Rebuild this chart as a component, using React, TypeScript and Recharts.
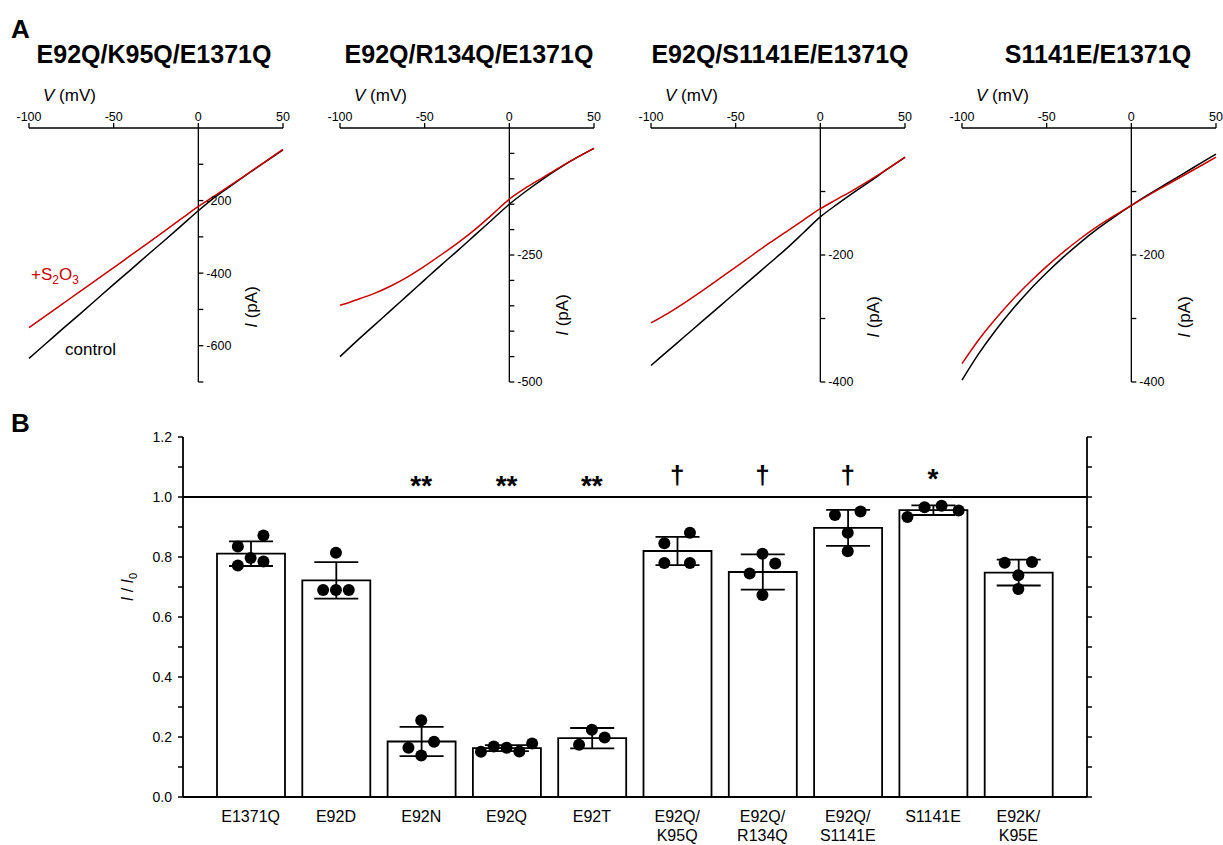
import React from 'react'
import {
  ComposedChart, Line, Bar, Scatter, XAxis, YAxis, ReferenceLine, ErrorBar
} from 'recharts'

const FONT = '"Liberation Sans", Arial, sans-serif'
const RED = '#c80000'

const voltages = [-100, -90, -80, -70, -60, -50, -40, -30, -20, -10, 0, 10, 20, 30, 40, 50]

const ivTitles = ['E92Q/K95Q/E1371Q', 'E92Q/R134Q/E1371Q', 'E92Q/S1141E/E1371Q', 'S1141E/E1371Q']

const controlK95Q = [-635, -594, -553, -513, -472, -431, -391, -350, -310, -269, -228, -190, -157, -124, -92, -60]
const thioK95Q = [-550, -517, -484, -451, -418, -385, -351, -318, -284, -250, -216, -186, -155, -123, -91, -59]

const controlR134Q = [-450, -419, -389, -359, -329, -299, -269, -240, -210, -180, -150, -124, -100, -78, -58, -40]
const thioR134Q = [-349, -338, -326, -311, -293, -272, -249, -225, -199, -170, -140, -117, -97, -77, -58, -40]

const controlS1141E3 = [-374, -351, -328, -305, -282, -259, -236, -213, -190, -165, -140, -120, -101, -83, -64, -46]
const thioS1141E3 = [-307, -292, -275, -257, -238, -219, -200, -181, -163, -145, -127, -112, -97, -81, -64, -46]

const controlS1141E2 = [-397, -355, -318, -285, -255, -228, -203, -180, -159, -140, -122, -105, -89, -73, -57, -41]
const thioS1141E2 = [-371, -333, -300, -270, -243, -218, -195, -174, -155, -138, -122, -106, -91, -76, -61, -46]

const ivControl = [controlK95Q, controlR134Q, controlS1141E3, controlS1141E2]
const ivThio = [thioK95Q, thioR134Q, thioS1141E3, thioS1141E2]

const ivYMin = [-700, -500, -400, -400]
const ivYTicks = [
  [-100, -200, -300, -400, -500, -600, -700],
  [-50, -100, -150, -200, -250, -300, -350, -400, -450, -500],
  [-100, -200, -300, -400],
  [-100, -200, -300, -400],
]
const ivYLabels = [[-200, -400, -600], [-250, -500], [-200, -400], [-200, -400]]
const vTicks = [-100, -50, 0, 50]

// ---- panel B: I / I0 ----
const mutants = ['E1371Q', 'E92D', 'E92N', 'E92Q', 'E92T', 'E92Q/\nK95Q', 'E92Q/\nR134Q', 'E92Q/\nS1141E', 'S1141E', 'E92K/\nK95E']
const meanRatio = [0.811, 0.722, 0.185, 0.163, 0.196, 0.820, 0.750, 0.897, 0.956, 0.748]
const sdRatio = [0.041, 0.061, 0.049, 0.010, 0.034, 0.047, 0.059, 0.060, 0.016, 0.043]
const cellRatios = [
  [0.835, 0.872, 0.797, 0.772, 0.785],
  [0.814, 0.690, 0.690, 0.690],
  [0.256, 0.184, 0.164, 0.138],
  [0.151, 0.168, 0.164, 0.152, 0.178],
  [0.174, 0.224, 0.198],
  [0.846, 0.881, 0.780, 0.780],
  [0.811, 0.778, 0.745, 0.673],
  [0.940, 0.952, 0.881, 0.819],
  [0.933, 0.966, 0.971, 0.955],
  [0.781, 0.783, 0.739, 0.693],
]
// horizontal spread of the dots, in bar slots
const cellJitter = [
  [-0.15, 0.15, 0, -0.15, 0.15],
  [0, -0.15, 0, 0.15],
  [0, 0.15, -0.15, 0],
  [-0.3, -0.15, 0, 0.15, 0.3],
  [-0.15, 0, 0.15],
  [-0.15, 0.15, -0.15, 0.15],
  [0, 0.15, -0.15, 0],
  [-0.15, 0.15, 0, 0],
  [-0.3, -0.1, 0.1, 0.3],
  [-0.16, 0.16, 0, 0],
]
const marks = ['', '', '**', '**', '**', '†', '†', '†', '*', '']
const ratioTicks = [0, 0.1, 0.2, 0.3, 0.4, 0.5, 0.6, 0.7, 0.8, 0.9, 1.0, 1.1, 1.2]

// ---- layout ----
const ivPlotLeft = [29, 340, 651, 962]
const ivPlotW = 254
const ivTitleX = [154, 469, 780, 1098]
const ivLabelY = [307, 315, 317, 317]

const yTickShape = (p: any) => {
  const lab = p.payload.label
  return (
    <g>
      <line x1={p.cx} x2={p.cx + 5} y1={p.cy} y2={p.cy} stroke="#000" strokeWidth={1.3} />
      {lab ? (
        <text x={p.cx + 8} y={p.cy} dy="0.35em" fontSize={12.5} fontFamily={FONT} fill="#000">{lab}</text>
      ) : null}
    </g>
  )
}

function IVPanel({ idx }: { idx: number }) {
  const rows = voltages.map((v, k) => ({ v, control: ivControl[idx][k], thio: ivThio[idx][k] }))
  const tickRows = ivYTicks[idx].map(t => ({
    v: 0, i: t, label: ivYLabels[idx].includes(t) ? String(t) : ''
  }))
  return (
    <div style={{ position: 'absolute', left: ivPlotLeft[idx] - 20, top: 0 }}>
      <ComposedChart width={ivPlotW + 40} height={392} data={rows}
        margin={{ top: 100, right: 20, bottom: 10, left: 20 }}>
        <XAxis type="number" dataKey="v" orientation="top" domain={[-100, 50]} ticks={vTicks}
          height={28} tickSize={5} tickMargin={2} interval={0}
          axisLine={{ stroke: '#000', strokeWidth: 1.3 }} tickLine={{ stroke: '#000', strokeWidth: 1.3 }}
          tick={{ fontSize: 12.5, fill: '#000', fontFamily: FONT }} />
        <YAxis type="number" domain={[ivYMin[idx], 0]} hide />
        <ReferenceLine x={0} stroke="#000" strokeWidth={1.3} />
        <Line type="monotone" dataKey="control" stroke="#000" strokeWidth={1.5} dot={false} isAnimationActive={false} />
        <Line type="monotone" dataKey="thio" stroke={RED} strokeWidth={1.5} dot={false} isAnimationActive={false} />
        <Scatter data={tickRows} dataKey="i" shape={yTickShape} isAnimationActive={false} />
      </ComposedChart>
    </div>
  )
}

const leftTick = (p: any) => {
  const v = p.payload.value
  const major = Math.round(v * 10) % 2 === 0
  return (
    <g>
      <line x1={p.x - 5} x2={p.x} y1={p.y} y2={p.y} stroke="#000" strokeWidth={1.5} />
      {major ? (
        <text x={p.x - 11} y={p.y} dy="0.35em" textAnchor="end" fontSize={14} fontFamily={FONT} fill="#000">
          {v.toFixed(1)}
        </text>
      ) : null}
    </g>
  )
}

const rightTick = (p: any) => (
  <line x1={p.x} x2={p.x + 5} y1={p.y} y2={p.y} stroke="#000" strokeWidth={1.5} />
)

const catTick = (p: any) => {
  const lines = String(p.payload.value).split('\n')
  return (
    <text x={p.x} y={p.y} textAnchor="middle" fontSize={16} fontFamily={FONT} fill="#000">
      {lines.map((s, k) => (
        <tspan key={k} x={p.x} y={p.y + 25 + k * 19}>{s}</tspan>
      ))}
    </text>
  )
}

const dotShape = (p: any) => <circle cx={p.cx} cy={p.cy} r={6} fill="#000" />

const markShape = (p: any) => {
  const m = p.payload.m
  const dy = m === '†' ? -13 : m === '*' ? -9 : -2
  return (
    <text x={p.cx} y={p.cy + dy} textAnchor="middle"
      fontSize={m === '†' ? 26 : 28} fontWeight="bold" fontFamily={FONT} fill="#000">{m}</text>
  )
}

function RatioPanel() {
  const rows = mutants.map((name, i) => ({ name, mean: meanRatio[i], sd: sdRatio[i] }))
  const cells = cellRatios.flatMap((vals, i) => vals.map((y, k) => ({ x: i + cellJitter[i][k], y })))
  const markRows = marks.map((m, i) => ({ x: i, y: 1, m })).filter(r => r.m)
  return (
    <div style={{ position: 'absolute', left: 0, top: 400 }}>
      <ComposedChart width={1223} height={445} data={rows}
        margin={{ top: 37, right: 0, bottom: 0, left: 0 }}>
        <XAxis dataKey="name" interval={0} padding={{ left: 25, right: 26 }}
          height={48} tickSize={0} tickMargin={0} tickLine={false}
          axisLine={{ stroke: '#000', strokeWidth: 1.8 }} tick={catTick} />
        <XAxis xAxisId="num" type="number" dataKey="x" domain={[-0.5, 9.5]} hide
          padding={{ left: 25, right: 26 }} />
        <YAxis yAxisId="l" type="number" domain={[0, 1.2]} ticks={ratioTicks} interval={0} width={183}
          tickSize={0} tickMargin={0} tickLine={false}
          axisLine={{ stroke: '#000', strokeWidth: 1.8 }} tick={leftTick} />
        <YAxis yAxisId="r" orientation="right" type="number" domain={[0, 1.2]} ticks={ratioTicks} interval={0}
          width={136} tickSize={0} tickMargin={0} tickLine={false} allowDataOverflow
          axisLine={{ stroke: '#000', strokeWidth: 1.8 }} tick={rightTick} />
        <ReferenceLine yAxisId="l" y={1} stroke="#000" strokeWidth={1.8} />
        <Bar yAxisId="l" dataKey="mean" barSize={68} fill="#fff" stroke="#000" strokeWidth={1.8}
          isAnimationActive={false}>
          <ErrorBar dataKey="sd" width={22} stroke="#000" strokeWidth={1.8} />
        </Bar>
        <Scatter yAxisId="l" xAxisId="num" data={cells} dataKey="y" shape={dotShape} isAnimationActive={false} />
        <Scatter yAxisId="l" xAxisId="num" data={markRows} dataKey="y" shape={markShape} isAnimationActive={false} />
      </ComposedChart>
    </div>
  )
}

export default function App() {
  return (
    <div style={{ position: 'absolute', left: 0, top: 0, width: 1223, height: 845, background: '#fff', fontFamily: FONT }}>
      {[0, 1, 2, 3].map(i => <IVPanel key={i} idx={i} />)}
      <RatioPanel />
      <svg width={1223} height={845} style={{ position: 'absolute', left: 0, top: 0, pointerEvents: 'none' }}
        fontFamily={FONT}>
        <text x={11} y={38} fontSize={26} fontWeight="bold">A</text>
        <text x={11} y={432} fontSize={26} fontWeight="bold">B</text>
        {ivTitles.map((t, i) => (
          <text key={t} x={ivTitleX[i]} y={63} textAnchor="middle" fontSize={25} fontWeight="bold">{t}</text>
        ))}
        {ivPlotLeft.map((x0, i) => (
          <g key={i}>
            <text x={x0 + 14} y={101} fontSize={17}>
              <tspan fontStyle="italic">V</tspan> (mV)
            </text>
            <text transform={`translate(${x0 + ivPlotW * 2 / 3 + 53},${ivLabelY[i]}) rotate(-90)`}
              textAnchor="middle" dy="0.35em" fontSize={17}>
              <tspan fontStyle="italic">I</tspan> (pA)
            </text>
          </g>
        ))}
        <text x={31} y={280} fontSize={17} fill={RED}>
          +S<tspan dy={4} fontSize={12}>2</tspan><tspan dy={-4}>O</tspan><tspan dy={4} fontSize={12}>3</tspan>
        </text>
        <text x={65} y={355} fontSize={17}>control</text>
        <text transform="translate(133,587) rotate(-90)" textAnchor="middle" fontSize={16}>
          <tspan fontStyle="italic">I</tspan> / <tspan fontStyle="italic">I</tspan>
          <tspan dy={4} fontSize={11}>0</tspan>
        </text>
      </svg>
    </div>
  )
}
